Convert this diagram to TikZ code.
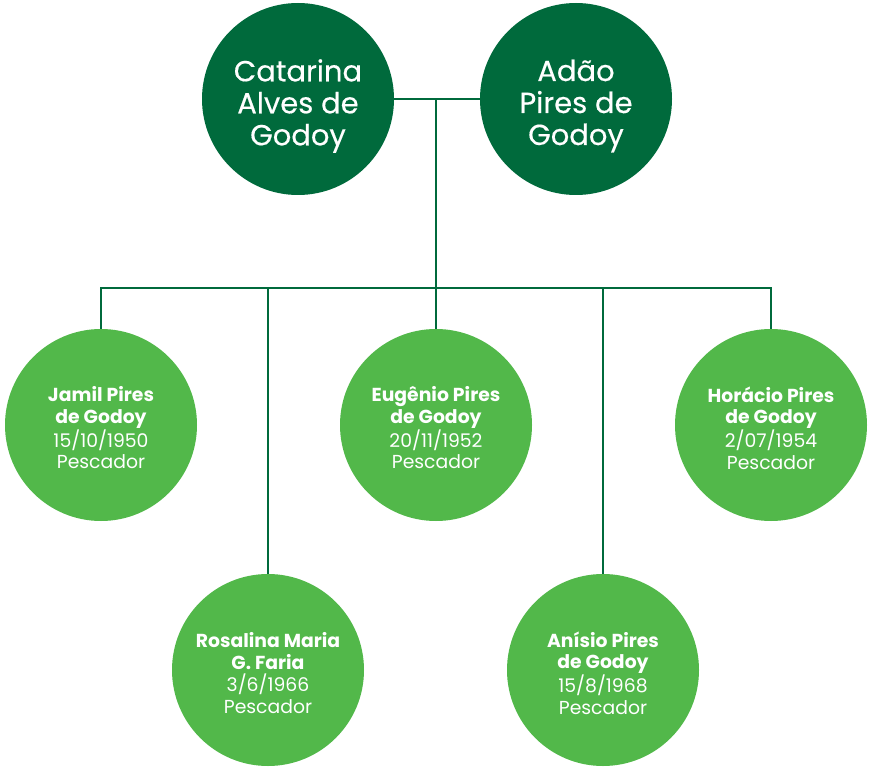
\documentclass[tikz,border=0pt]{standalone}
\usepackage{fontspec}
\setmainfont{Poppins}
\newfontfamily\parentfont[FakeBold=0.4]{Poppins}
\definecolor{darkgreen}{HTML}{006A3C}
\definecolor{lightgreen}{HTML}{52B84A}
\begin{document}
\begin{tikzpicture}[x=1pt,y=-1pt,
  parent/.style={circle, fill=darkgreen, minimum size=192pt, inner sep=0pt},
  child/.style={circle, fill=lightgreen, minimum size=192pt, inner sep=0pt},
  parentlabel/.style={text=white, align=center, inner sep=0pt,
    font=\parentfont\fontsize{29}{32}\selectfont},
  childlabel/.style={text=white, align=center, inner sep=0pt,
    font=\fontsize{18.8}{21.7}\selectfont},
  link/.style={draw=darkgreen, line width=2.5pt}]
\useasboundingbox (0,0) rectangle (870,770);

% parents
\node[parent] (cat)  at (298,99) {};
\node[parent] (adao) at (576,99) {};
\node[parentlabel] (catlbl)  at ([yshift=-7pt]cat.center)  {Catarina\\Alves de\\Godoy};
\node[parentlabel] (adaolbl) at ([yshift=-7pt]adao.center) {Adão\\Pires de\\Godoy};

% children
\node[child] (jamil)   at (101,425) {};
\node[child] (eug)     at (436,425) {};
\node[child] (horacio) at (771,425) {};
\node[child] (rosa)    at (268,670) {};
\node[child] (anisio)  at (603,670) {};
\node[childlabel] (jamillbl)   at ([yshift=-3pt]jamil.center)   {\textbf{Jamil Pires}\\\textbf{de Godoy}\\15/10/1950\\Pescador};
\node[childlabel] (euglbl)     at ([yshift=-3pt]eug.center)     {\textbf{Eugênio Pires}\\\textbf{de Godoy}\\20/11/1952\\Pescador};
\node[childlabel] (horaciolbl) at ([yshift=-3pt]horacio.center) {\textbf{Horácio Pires}\\\textbf{de Godoy}\\2/07/1954\\Pescador};
\node[childlabel] (rosalbl)    at ([yshift=-3pt]rosa.center)    {\textbf{Rosalina Maria}\\\textbf{G. Faria}\\3/6/1966\\Pescador};
\node[childlabel] (anisiolbl)  at ([yshift=-3pt]anisio.center)  {\textbf{Anísio Pires}\\\textbf{de Godoy}\\15/8/1968\\Pescador};

% couple link and descent line
\coordinate (mid) at (eug.north |- cat.east);
\coordinate (bar) at (436,288);
\draw[link] (cat.east) -- (adao.west);
\draw[link] (mid) -- (eug.north);

% sibling bar
\draw[link] (jamil.north) -- (jamil.north |- bar) -- (horacio.north |- bar) -- (horacio.north);
\draw[link] (rosa.north |- bar) -- (rosa.north);
\draw[link] (anisio.north |- bar) -- (anisio.north);
\end{tikzpicture}
\end{document}
